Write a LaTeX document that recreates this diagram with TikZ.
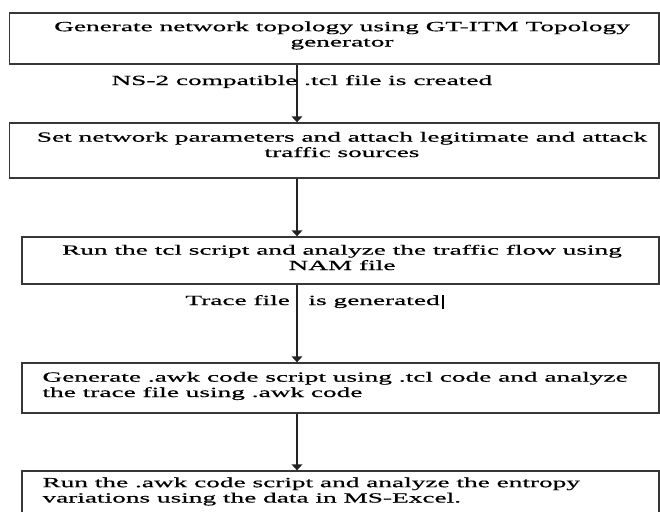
\documentclass[tikz,border=0pt]{standalone}
\usepackage{fontspec}
\setmainfont{Liberation Serif}[FakeStretch=1.95,FakeBold=0.6]
\usetikzlibrary{arrows.meta,fit}

\tikzset{every picture/.style={line width=0.75pt}}
\tikzset{
  stepbox/.style={draw={rgb,255:red,55;green,55;blue,55}, line width=1pt, inner sep=0pt},
  flowarrow/.style={draw={rgb,255:red,35;green,35;blue,35}, line width=1.3pt, -{Triangle[length=4.5pt,width=8pt]}},
  boxtext/.style={inner sep=0pt, font=\fontsize{10.5pt}{11.5pt}\selectfont},
}

\begin{document}
\begin{tikzpicture}[x=0.75pt,y=0.75pt,yscale=-1,xscale=1]
%set diagram left start at 0, and has height of 511
\path[use as bounding box] (0,0) rectangle (660,511);
\clip (0,0) rectangle (660,511);

%Shape: Rectangle [b1]
\node[stepbox, fit={(9.5,13) (659,64)}] (b1) {};
%Shape: Rectangle [b2]
\node[stepbox, fit={(9.5,123) (659,178)}] (b2) {};
%Shape: Rectangle [b3]
\node[stepbox, fit={(22,237) (659,284)}] (b3) {};
%Shape: Rectangle [b4]
\node[stepbox, fit={(22,363) (659,413)}] (b4) {};
%Shape: Rectangle [b5]
\node[stepbox, fit={(22,471) (659,530)}] (b5) {};

%arrow column
\coordinate (ax) at (297,0);

%Straight Lines
\draw[flowarrow] (b1.south -| ax) -- (b2.north -| ax);
%Straight Lines
\draw[flowarrow] (b2.south -| ax) -- (b3.north -| ax);
%Straight Lines
\draw[flowarrow] (b3.south -| ax) -- (b4.north -| ax);
%Straight Lines
\draw[flowarrow] (b4.south -| ax) -- (b5.north -| ax);

% Text Node (base = last line)
\node[boxtext, anchor=base, align=center] (t1) at (342,46.5) {Generate network topology using GT-ITM Topology\\generator};
% Text Node
\node[boxtext, anchor=base, align=center] (t2) at (342,157) {Set network parameters and attach legitimate and attack\\traffic sources};
% Text Node
\node[boxtext, anchor=base, align=center] (t3) at (342,270) {Run the tcl script and analyze the traffic flow using\\NAM file};
% Text Node
\node[boxtext, anchor=base west, align=left] (t4) at (42,397) {Generate .awk code script using .tcl code and analyze\\the trace file using .awk code};
% Text Node
\node[boxtext, anchor=base west, align=left] (t5) at (42,502.5) {Run the .awk code script and analyze the entropy\\variations using the data in MS-Excel.};

% Text Node
\node[boxtext, anchor=base west] (l1) at (111,85) {NS-2 compatible .tcl file is created};
% Text Node
\node[boxtext, anchor=base west] (l2a) at (185,305) {Trace file};
% Text Node
\node[boxtext, anchor=base west] (l2b) at (308,305) {is generated};
%cursor mark
\fill (441.5,295) rectangle (444,309);

\end{tikzpicture}
\end{document}
